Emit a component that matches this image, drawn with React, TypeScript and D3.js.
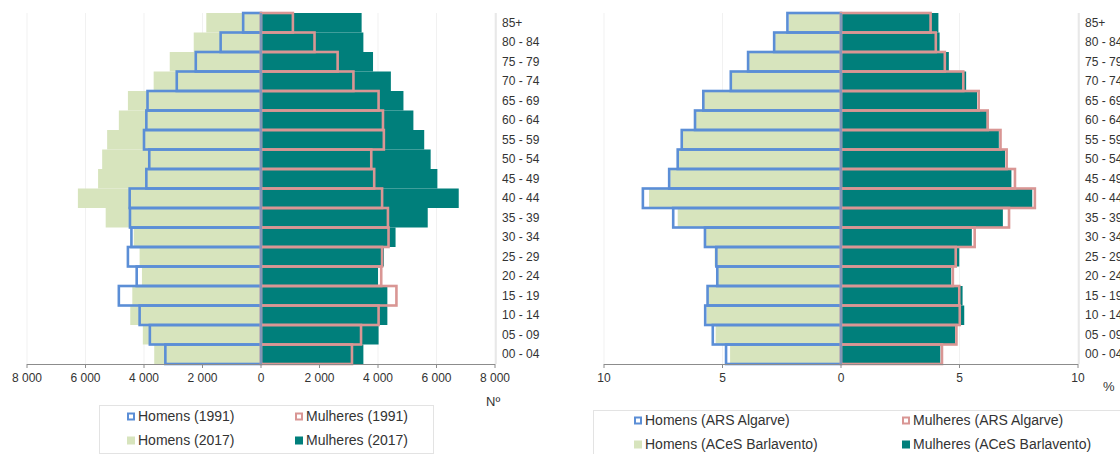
import * as d3 from "d3";

const ageGroups = [
  "00 - 04", "05 - 09", "10 - 14", "15 - 19", "20 - 24", "25 - 29",
  "30 - 34", "35 - 39", "40 - 44", "45 - 49", "50 - 54", "55 - 59",
  "60 - 64", "65 - 69", "70 - 74", "75 - 79", "80 - 84", "85+",
];

// left chart: counts (Nº)
const homens1991 = [3270, 3800, 4150, 4860, 4250, 4550, 4430, 4480, 4490, 3920, 3820, 4000, 3920, 3880, 2880, 2230, 1380, 610];
const mulheres1991 = [3110, 3420, 4020, 4630, 4110, 4140, 4360, 4340, 4140, 3870, 3770, 4200, 4170, 4020, 3160, 2620, 1830, 1090];
const homens2017 = [3650, 4040, 4470, 4400, 4070, 4150, 4350, 5310, 6260, 5570, 5430, 5260, 4860, 4550, 3670, 3120, 2300, 1870];
const mulheres2017 = [3500, 4020, 4320, 4320, 4000, 4200, 4600, 5700, 6760, 6030, 5800, 5580, 5210, 4870, 4440, 3830, 3500, 3440];

// right chart: percentages
const homensARS = [4.85, 5.41, 5.73, 5.63, 5.22, 5.26, 5.74, 7.08, 8.36, 7.25, 6.89, 6.72, 6.16, 5.81, 4.65, 3.92, 2.82, 2.26];
const mulheresARS = [4.26, 4.87, 5.01, 4.99, 4.72, 4.84, 5.64, 7.09, 8.18, 7.34, 6.99, 6.73, 6.19, 5.81, 5.16, 4.38, 4.0, 3.78];
const homensACeS = [4.68, 5.29, 5.67, 5.6, 5.19, 5.33, 5.7, 6.89, 8.1, 7.2, 6.85, 6.68, 6.12, 5.78, 4.6, 3.88, 2.78, 2.2];
const mulheresACeS = [4.19, 4.81, 5.2, 5.13, 4.65, 4.99, 5.52, 6.83, 8.07, 7.19, 6.92, 6.66, 6.15, 5.74, 5.28, 4.55, 4.16, 4.11];

const leftTicks = [-8000, -6000, -4000, -2000, 0, 2000, 4000, 6000, 8000];
const rightTicks = [-10, -5, 0, 5, 10];

const BLUE = "#5b8ed6";
const PINK = "#d99694";
const GREEN = "#d7e4bd";
const TEAL = "#007f7b";
const FONT = "'Liberation Sans', Arial, sans-serif";

type PyramidProps = {
  x0: number;
  x1: number;
  max: number;
  ticks: number[];
  fmt: (v: number) => string;
  menOld: number[];
  womenOld: number[];
  menNew: number[];
  womenNew: number[];
};

const Pyramid = ({ x0, x1, max, ticks, fmt, menOld, womenOld, menNew, womenNew }: PyramidProps) => {
  const top = 13;
  const bottom = 364;
  const x = d3.scaleLinear().domain([-max, max]).range([x0, x1]);
  const y = d3
    .scaleBand()
    .domain([...ageGroups].reverse())
    .range([top, bottom])
    .padding(0);
  const bw = y.bandwidth();

  return (
    <g>
      {ticks.map((t) => (
        <line key={"g" + t} x1={x(t)} x2={x(t)} y1={top} y2={bottom} stroke="#f1f1f1" />
      ))}
      <line x1={x1 + 1} x2={x1 + 1} y1={top} y2={bottom} stroke="#d9d9d9" />

      {ageGroups.map((a, i) => (
        <g key={"f" + a}>
          <rect x={x(-menNew[i])} y={y(a)} width={x(0) - x(-menNew[i])} height={bw} fill={GREEN} />
          <rect x={x(0)} y={y(a)} width={x(womenNew[i]) - x(0)} height={bw} fill={TEAL} />
        </g>
      ))}
      {ageGroups.map((a, i) => (
        <g key={"o" + a}>
          <rect
            x={x(-menOld[i])}
            y={y(a)}
            width={x(0) - x(-menOld[i])}
            height={bw}
            fill="none"
            stroke={BLUE}
            strokeWidth={2.6}
          />
          <rect
            x={x(0)}
            y={y(a)}
            width={x(womenOld[i]) - x(0)}
            height={bw}
            fill="none"
            stroke={PINK}
            strokeWidth={2.6}
          />
        </g>
      ))}
      <line x1={x(0)} x2={x(0)} y1={top} y2={bottom} stroke="#8096b8" strokeWidth={2} />

      <line x1={x0} x2={x1} y1={bottom + 0.5} y2={bottom + 0.5} stroke="#8c8c8c" />
      {ticks.map((t) => (
        <g key={"t" + t}>
          <line x1={x(t)} x2={x(t)} y1={bottom} y2={bottom + 4} stroke="#8c8c8c" />
          <text
            x={x(t)}
            y={379}
            textAnchor="middle"
            dominantBaseline="middle"
            fontSize={12}
            fontFamily={FONT}
            fill="#333"
          >
            {fmt(Math.abs(t))}
          </text>
        </g>
      ))}
      {ageGroups.map((a) => (
        <text
          key={"l" + a}
          x={x1 + 7}
          y={(y(a) ?? 0) + bw / 2 + 1}
          dominantBaseline="middle"
          fontSize={12}
          fontFamily={FONT}
          fill="#333"
        >
          {a}
        </text>
      ))}
    </g>
  );
};

type LegendItem = { label: string; x: number; y: number; color: string; outline: boolean };

const Legend = ({ items }: { items: LegendItem[] }) => (
  <g>
    {items.map((it) => (
      <g key={it.label}>
        {it.outline ? (
          <rect x={it.x + 1} y={it.y - 3.5} width={6} height={6} fill="#fff" stroke={it.color} strokeWidth={2} />
        ) : (
          <rect x={it.x} y={it.y - 4.5} width={8} height={8} fill={it.color} />
        )}
        <text
          x={it.x + 11}
          y={it.y}
          dominantBaseline="middle"
          fontSize={14}
          fontFamily={FONT}
          fill="#333"
        >
          {it.label}
        </text>
      </g>
    ))}
  </g>
);

const fmtNum = (v: number) => d3.format(",")(v).replace(",", " ");
const fmtPct = (v: number) => String(v);

export default function App() {
  return (
    <svg width={1120} height={454} style={{ position: "absolute", left: 0, top: 0, background: "#fff" }}>
      <Pyramid
        x0={27}
        x1={495}
        max={8000}
        ticks={leftTicks}
        fmt={fmtNum}
        menOld={homens1991}
        womenOld={mulheres1991}
        menNew={homens2017}
        womenNew={mulheres2017}
      />
      <Pyramid
        x0={604}
        x1={1078}
        max={10}
        ticks={rightTicks}
        fmt={fmtPct}
        menOld={homensARS}
        womenOld={mulheresARS}
        menNew={homensACeS}
        womenNew={mulheresACeS}
      />
      <text x={486} y={403} dominantBaseline="middle" fontSize={13} fontFamily={FONT} fill="#333">
        Nº
      </text>
      <text x={1103} y={388} dominantBaseline="middle" fontSize={13} fontFamily={FONT} fill="#333">
        %
      </text>

      <rect x={99.5} y={405.5} width={334} height={48} fill="none" stroke="#e3e3e3" />
      <Legend
        items={[
          { label: "Homens (1991)", x: 127, y: 417, color: BLUE, outline: true },
          { label: "Mulheres (1991)", x: 295, y: 417, color: PINK, outline: true },
          { label: "Homens (2017)", x: 127, y: 441, color: GREEN, outline: false },
          { label: "Mulheres (2017)", x: 295, y: 441, color: TEAL, outline: false },
        ]}
      />

      <rect x={593.5} y={410.5} width={540} height={60} fill="none" stroke="#e3e3e3" />
      <Legend
        items={[
          { label: "Homens (ARS Algarve)", x: 634, y: 421, color: BLUE, outline: true },
          { label: "Mulheres (ARS Algarve)", x: 902, y: 421, color: PINK, outline: true },
          { label: "Homens (ACeS Barlavento)", x: 634, y: 445, color: GREEN, outline: false },
          { label: "Mulheres (ACeS Barlavento)", x: 902, y: 445, color: TEAL, outline: false },
        ]}
      />
    </svg>
  );
}
